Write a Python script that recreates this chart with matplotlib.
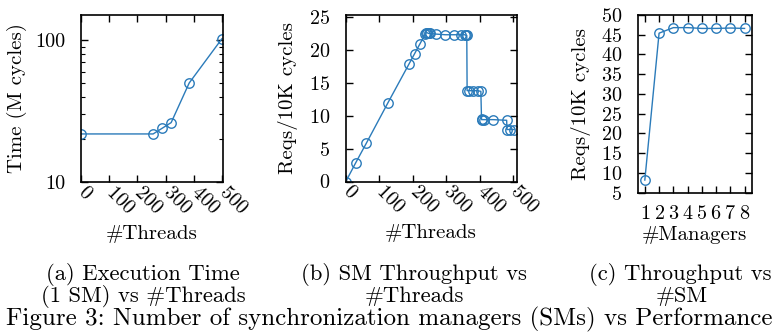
import matplotlib
matplotlib.use("Agg")
from matplotlib import pyplot as plt
from matplotlib.ticker import LogLocator, NullFormatter, FixedLocator, FuncFormatter

plt.rcParams['font.family'] = ['cmr10', 'DejaVu Serif']
plt.rcParams['mathtext.fontset'] = 'cm'
plt.rcParams['axes.formatter.use_mathtext'] = True
plt.rcParams['axes.unicode_minus'] = False

# (a) execution time with 1 SM
threads_a = [1, 256, 288, 320, 384, 500]
time_a = [21.8, 21.8, 23.9, 26.2, 49.8, 102]

# (b) SM throughput vs threads
threads_b = [1, 30, 62, 126, 190, 206, 222, 238, 240, 244, 248, 252, 270, 298, 324, 344,
             356, 360, 362, 363, 370, 380, 394, 404, 406, 406, 412, 440, 481, 482, 490, 503]
tput_b = [0, 2.8, 5.8, 11.9, 17.9, 19.4, 20.9, 22.4, 22.6, 22.6, 22.5, 22.5, 22.4, 22.3, 22.3, 22.3,
          22.3, 22.2, 22.2, 13.8, 13.8, 13.8, 13.8, 13.7, 9.5, 9.4, 9.4, 9.4, 9.3, 7.9, 7.9, 7.9]

# (c) throughput vs number of managers
managers = [1, 2, 3, 4, 5, 6, 7, 8]
tput_c = [8.2, 45.4, 46.8, 46.8, 46.6, 46.6, 46.7, 46.6]

W, H = 779, 336
fig = plt.figure(figsize=(W / 100, H / 100), dpi=100)

def box(l, r, t, b):
    return [l / W, 1 - b / H, (r - l) / W, (b - t) / H]

blue = '#2b7bba'
line_kw = dict(color=blue, lw=1.0, marker='o', ms=6.8, mfc='none', mec=blue, mew=1.0)
TS = 14.5
LS = 15

def style(ax):
    for s in ax.spines.values():
        s.set_linewidth(1.2)
    ax.tick_params(direction='in', top=True, right=True, length=5, width=1.0,
                   labelsize=TS, pad=5)
    ax.tick_params(which='minor', direction='in', top=True, right=True, length=3, width=0.8)
    ax.tick_params(axis='y', pad=11)

# panel a
ax1 = fig.add_axes(box(81, 223, 15, 182))
ax1.plot(threads_a, time_a, **line_kw)
ax1.set_yscale('log')
ax1.set_ylim(10, 150)
ax1.set_xlim(0, 504)
ax1.yaxis.set_major_locator(FixedLocator([10, 100]))
ax1.yaxis.set_major_formatter(FuncFormatter(lambda v, p: '%d' % v))
ax1.yaxis.set_minor_locator(LogLocator(base=10, subs=range(2, 10)))
ax1.yaxis.set_minor_formatter(NullFormatter())
ax1.set_xticks([0, 100, 200, 300, 400, 500])
style(ax1)
ax1.set_ylabel('Time (M cycles)', fontsize=LS)
ax1.yaxis.set_label_coords(-0.38, 0.5)
ax1.set_xlabel('#Threads', fontsize=LS)
ax1.xaxis.set_label_coords(0.5, -0.255)

# panel b
ax2 = fig.add_axes(box(345.5, 516.7, 15, 181.5))
ax2.plot(threads_b, tput_b, **line_kw)
ax2.set_xlim(0, 511)
ax2.set_ylim(0, 25.3)
ax2.set_xticks([0, 100, 200, 300, 400, 500])
ax2.set_yticks([0, 5, 10, 15, 20, 25])
style(ax2)
ax2.set_ylabel('Reqs/10K cycles', fontsize=LS)
ax2.yaxis.set_label_coords(-0.275, 0.5)
ax2.set_xlabel('#Threads', fontsize=LS)
ax2.xaxis.set_label_coords(0.5, -0.255)

for ax in (ax1, ax2):
    for lab in ax.get_xticklabels():
        lab.set_rotation(-45)
        lab.set_ha('left')
        lab.set_va('center')
        lab.set_rotation_mode('anchor')

# panel c
ax3 = fig.add_axes(box(637.7, 751.7, 15, 192.7))
ax3.plot(managers, tput_c, **line_kw)
ax3.set_xlim(0.5, 8.5)
ax3.set_ylim(5, 50)
ax3.set_xticks(managers)
ax3.set_yticks(range(5, 51, 5))
style(ax3)
ax3.tick_params(axis='x', pad=9)
ax3.set_ylabel('Reqs/10K cycles', fontsize=LS)
ax3.yaxis.set_label_coords(-0.41, 0.5)
ax3.set_xlabel('#Managers', fontsize=LS)
ax3.xaxis.set_label_coords(0.5, -0.19)

# captions
CS = 16.3
FS = 18
def ftext(x, y, s, size, ha='center'):
    fig.text(x / W, 1 - y / H, s, ha=ha, va='baseline', fontsize=size)

ftext(143, 280, '(a) Execution Time', CS)
ftext(143, 302, '(1 SM) vs #Threads', CS)
ftext(414, 280, '(b) SM Throughput vs', CS)
ftext(414, 302, '#Threads', CS)
ftext(680, 280, '(c) Throughput vs', CS)
ftext(682, 302, '#SM', CS)
ftext(389, 325, 'Figure 3: Number of synchronization managers (SMs) vs Performance', FS)

fig.savefig('out.png', dpi=100)
